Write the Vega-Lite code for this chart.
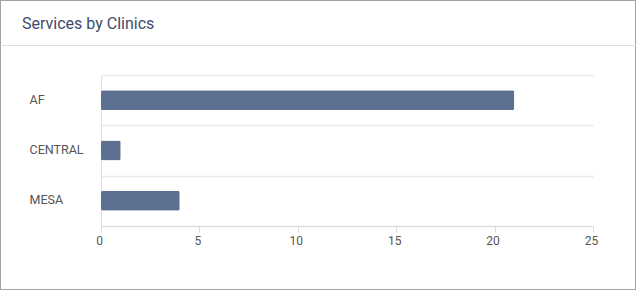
{
  "$schema": "https://vega.github.io/schema/vega-lite/v6.json",
  "width": 636,
  "height": 290,
  "autosize": {"type": "none"},
  "padding": 0,
  "background": "white",
  "config": {
    "view": {"stroke": "#a3a3a3", "strokeWidth": 2},
    "font": "Roboto"
  },
  "title": {
    "text": "Services by Clinics",
    "anchor": "start",
    "frame": "group",
    "orient": "top",
    "offset": -27,
    "baseline": "alphabetic",
    "dx": 22,
    "dy": 24,
    "fontSize": 16,
    "fontWeight": "normal",
    "color": "#3e4b6d",
    "font": "Roboto"
  },
  "layer": [
    {
      "data": {
        "values": [
          {"clinic": "AF", "services": 21},
          {"clinic": "CENTRAL", "services": 1},
          {"clinic": "MESA", "services": 4}
        ]
      },
      "mark": {"type": "bar", "size": 20, "cornerRadius": 2, "color": "#5e7091"},
      "encoding": {
        "y": {
          "field": "clinic",
          "type": "nominal",
          "sort": null,
          "scale": {"range": [75, 226], "paddingInner": 0, "paddingOuter": 0},
          "axis": {
            "orient": "left",
            "offset": -101,
            "title": null,
            "ticks": false,
            "tickSize": 0,
            "labelPadding": 72,
            "labelAlign": "left",
            "labelFontSize": 12.5,
            "labelColor": "#555555",
            "labelFont": "Roboto",
            "labelOffset": -1,
            "domainColor": "#e0e0e0",
            "grid": true,
            "gridColor": "#e9e9e9",
            "gridWidth": 1.5,
            "tickBand": "extent"
          }
        },
        "x": {
          "field": "services",
          "type": "quantitative",
          "scale": {"domain": [0, 25], "range": [101, 593], "nice": false},
          "axis": {
            "orient": "bottom",
            "offset": -64,
            "title": null,
            "grid": false,
            "values": [0, 5, 10, 15, 20, 25],
            "tickColor": "#dddddd",
            "tickSize": 6,
            "domainColor": "#dddddd",
            "labelColor": "#555555",
            "labelFontSize": 12,
            "labelFont": "Roboto",
            "labelPadding": 3,
            "labelOffset": -2,
            "labelFlush": false
          }
        }
      }
    },
    {
      "data": {"values": [{"p": 0}, {"p": 1}]},
      "mark": {"type": "rule", "opacity": 0},
      "encoding": {
        "x": {
          "field": "p",
          "type": "quantitative",
          "scale": {"domain": [0, 1], "range": [0, 636], "nice": false},
          "axis": {
            "orient": "top",
            "offset": -45,
            "ticks": false,
            "labels": false,
            "grid": false,
            "domainColor": "#dedede",
            "title": null
          }
        }
      }
    }
  ],
  "resolve": {"scale": {"x": "independent"}, "axis": {"x": "independent"}}
}
